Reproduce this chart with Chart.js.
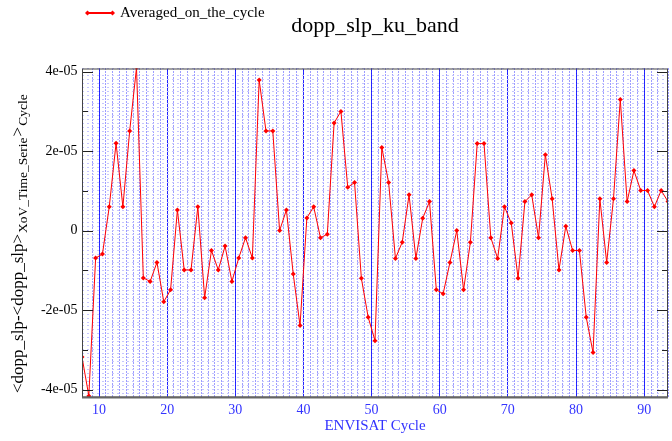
<!DOCTYPE html>
<html>
<head>
<meta charset="utf-8">
<script src="https://cdn.jsdelivr.net/npm/chart.js@4.4.1/dist/chart.umd.min.js"></script>
<style>
  html, body { margin: 0; padding: 0; background: #fff; }
</style>
</head>
<body>
<canvas id="chart" width="672" height="441"></canvas>
<script>
  // x positions of the cycle averages (plotted mid-cycle)
  const cycles = [
    7.5, 8.5, 9.5, 10.5, 11.5, 12.5, 13.5, 14.5, 15.5, 16.5,
    17.5, 18.5, 19.5, 20.5, 21.5, 22.5, 23.5, 24.5, 25.5, 26.5,
    27.5, 28.5, 29.5, 30.5, 31.5, 32.5, 33.5, 34.5, 35.5, 36.5,
    37.5, 38.5, 39.5, 40.5, 41.5, 42.5, 43.5, 44.5, 45.5, 46.5,
    47.5, 48.5, 49.5, 50.5, 51.5, 52.5, 53.5, 54.5, 55.5, 56.5,
    57.5, 58.5, 59.5, 60.5, 61.5, 62.5, 63.5, 64.5, 65.5, 66.5,
    67.5, 68.5, 69.5, 70.5, 71.5, 72.5, 73.5, 74.5, 75.5, 76.5,
    77.5, 78.5, 79.5, 80.5, 81.5, 82.5, 83.5, 84.5, 85.5, 86.5,
    87.5, 88.5, 89.5, 90.5, 91.5, 92.5, 93.5
  ];

  const averagedOnCycle = [
    -3.18e-5, -4.16e-5, -0.69e-5, -0.59e-5, 0.60e-5, 2.20e-5, 0.60e-5, 2.51e-5, 4.10e-5, -1.19e-5,
    -1.28e-5, -0.80e-5, -1.79e-5, -1.49e-5, 0.52e-5, -0.99e-5, -0.99e-5, 0.60e-5, -1.69e-5, -0.50e-5,
    -0.99e-5, -0.39e-5, -1.28e-5, -0.69e-5, -0.18e-5, -0.69e-5, 3.79e-5, 2.51e-5, 2.51e-5, 0.00e-5,
    0.52e-5, -1.09e-5, -2.39e-5, 0.32e-5, 0.60e-5, -0.18e-5, -0.09e-5, 2.71e-5, 3.00e-5, 1.09e-5,
    1.21e-5, -1.20e-5, -2.18e-5, -2.77e-5, 2.09e-5, 1.21e-5, -0.70e-5, -0.29e-5, 0.90e-5, -0.70e-5,
    0.31e-5, 0.73e-5, -1.49e-5, -1.59e-5, -0.80e-5, 0.00e-5, -1.49e-5, -0.29e-5, 2.19e-5, 2.19e-5,
    -0.18e-5, -0.70e-5, 0.60e-5, 0.19e-5, -1.20e-5, 0.73e-5, 0.90e-5, -0.18e-5, 1.91e-5, 0.80e-5,
    -0.99e-5, 0.11e-5, -0.50e-5, -0.50e-5, -2.18e-5, -3.07e-5, 0.80e-5, -0.80e-5, 0.80e-5, 3.30e-5,
    0.73e-5, 1.51e-5, 1.01e-5, 1.01e-5, 0.60e-5, 1.01e-5, 0.73e-5
  ];

  const yMinorTicks = [-3e-5, -1e-5, 1e-5, 3e-5];

  const SERIF = "'Liberation Serif', 'DejaVu Serif', serif";
  const AXIS_BLUE = '#3434ff';
  const X_MIN = 7.5, X_MAX = 93.5;
  const Y_MIN = -4.2e-5, Y_MAX = 4.08e-5;

  function formatExp(v) {
    if (Math.abs(v) < 1e-12) return '0';
    return v.toExponential(0).replace(/e([+-])(\d)$/, 'e$10$2');
  }

  // box round the plot plus inward tick marks on both sides
  const framePlugin = {
    id: 'frame',
    afterDatasetsDraw(chart) {
      const { ctx, chartArea: a, scales } = chart;
      ctx.save();
      ctx.lineWidth = 1;
      ctx.strokeStyle = '#222';
      const marks = scales.y.ticks.map(t => [t.value, 11])
        .concat(yMinorTicks.map(v => [v, 6]));
      marks.forEach(([v, len]) => {
        const py = Math.round(scales.y.getPixelForValue(v)) + 0.5;
        ctx.beginPath();
        ctx.moveTo(a.left, py); ctx.lineTo(a.left + len, py);
        ctx.moveTo(a.right, py); ctx.lineTo(a.right - len, py);
        ctx.stroke();
      });
      ctx.strokeStyle = '#444';
      ctx.strokeRect(a.left + 0.5, a.top + 0.5, a.right - a.left - 1, a.bottom - a.top - 1);
      ctx.strokeStyle = '#666';
      ctx.lineWidth = 2;
      ctx.beginPath();
      ctx.moveTo(a.left, a.bottom); ctx.lineTo(a.right, a.bottom);
      ctx.stroke();
      ctx.restore();
    }
  };

  // y title with subscripts
  const yTitlePlugin = {
    id: 'yTitle',
    afterDraw(chart) {
      const ctx = chart.ctx;
      const parts = [
        ['<dopp_slp-<dopp_slp>', 17, 0],
        ['XoV_Time_Serie', 13.5, 4],
        ['>', 17, 0],
        ['Cycle', 13.5, 4]
      ];
      ctx.save();
      ctx.translate(23, 393);
      ctx.rotate(-Math.PI / 2);
      ctx.fillStyle = '#000';
      ctx.textBaseline = 'alphabetic';
      ctx.textAlign = 'left';
      let x = 0;
      parts.forEach(([txt, size, dy]) => {
        ctx.font = size + 'px ' + SERIF;
        ctx.fillText(txt, x, dy);
        x += ctx.measureText(txt).width + 1;
      });
      ctx.restore();
    }
  };

  // little markers on the legend line
  const legendMarkPlugin = {
    id: 'legendMarks',
    afterDraw(chart) {
      const hb = chart.legend && chart.legend.legendHitBoxes && chart.legend.legendHitBoxes[0];
      if (!hb) return;
      const ctx = chart.ctx;
      const cy = hb.top + hb.height / 2;
      ctx.save();
      ctx.fillStyle = '#ff0000';
      [hb.left, hb.left + 25].forEach(cx => {
        ctx.beginPath();
        ctx.moveTo(cx, cy - 2.5); ctx.lineTo(cx + 2.5, cy);
        ctx.lineTo(cx, cy + 2.5); ctx.lineTo(cx - 2.5, cy);
        ctx.closePath();
        ctx.fill();
      });
      ctx.restore();
    }
  };

  new Chart(document.getElementById('chart'), {
    type: 'line',
    data: {
      datasets: [{
        label: 'Averaged_on_the_cycle',
        data: cycles.map((c, i) => ({ x: c, y: averagedOnCycle[i] })),
        borderColor: '#ff0000',
        backgroundColor: '#ff0000',
        borderWidth: 1,
        tension: 0,
        pointStyle: 'rectRot',
        pointRadius: 2.5,
        pointBorderWidth: 0,
        xAxisID: 'x',
        yAxisID: 'y'
      }]
    },
    options: {
      responsive: false,
      animation: false,
      layout: { padding: { left: 0, right: 3.5, top: 0, bottom: 0 } },
      plugins: {
        legend: {
          position: 'top',
          align: 'start',
          fullSize: false,
          weight: 3000,
          labels: {
            boxWidth: 25,
            boxHeight: 1,
            padding: 5.5,
            color: '#000',
            font: { family: SERIF, size: 15 }
          }
        },
        title: {
          display: true,
          text: 'dopp_slp_ku_band',
          fullSize: false,
          color: '#000',
          font: { family: SERIF, size: 22, weight: 'normal' },
          padding: { top: -17.7, bottom: 29.3 }
        },
        tooltip: { enabled: false }
      },
      scales: {
        x: {
          type: 'linear',
          position: 'bottom',
          min: X_MIN,
          max: X_MAX,
          ticks: {
            stepSize: 10,
            includeBounds: false,
            autoSkip: false,
            maxRotation: 0,
            padding: 4,
            color: AXIS_BLUE,
            font: { family: SERIF, size: 14 }
          },
          grid: { color: '#1a1aff', lineWidth: 1, drawTicks: false },
          border: { display: false },
          title: {
            display: true,
            text: 'ENVISAT Cycle',
            color: AXIS_BLUE,
            font: { family: SERIF, size: 15 },
            padding: { top: 0, bottom: 6.3 }
          },
          afterFit(s) { s.height = 43.5; }
        },
        xMinor: {
          type: 'linear',
          position: 'bottom',
          min: X_MIN,
          max: X_MAX - 0.01,
          ticks: { display: false, stepSize: 1 },
          grid: { color: '#3a3aff', lineWidth: 1, drawTicks: false },
          border: { display: false, dash: [1, 2] },
          afterFit(s) { s.height = 0; }
        },
        y: {
          type: 'linear',
          position: 'left',
          min: Y_MIN,
          max: Y_MAX,
          ticks: {
            stepSize: 2e-5,
            includeBounds: false,
            padding: 4.5,
            color: '#000',
            font: { family: SERIF, size: 14 },
            callback: formatExp
          },
          grid: { drawOnChartArea: false, drawTicks: false },
          border: { display: false },
          afterFit(s) { s.width = 82; }
        },
        yMinor: {
          type: 'linear',
          position: 'left',
          min: Y_MIN,
          max: Y_MAX,
          ticks: { display: false, stepSize: 1e-6 },
          grid: { color: '#c6c6ff', lineWidth: 1, drawTicks: false },
          border: { display: false, dash: [2, 3] },
          afterFit(s) { s.width = 0; }
        }
      }
    },
    plugins: [framePlugin, yTitlePlugin, legendMarkPlugin]
  });
</script>
</body>
</html>
